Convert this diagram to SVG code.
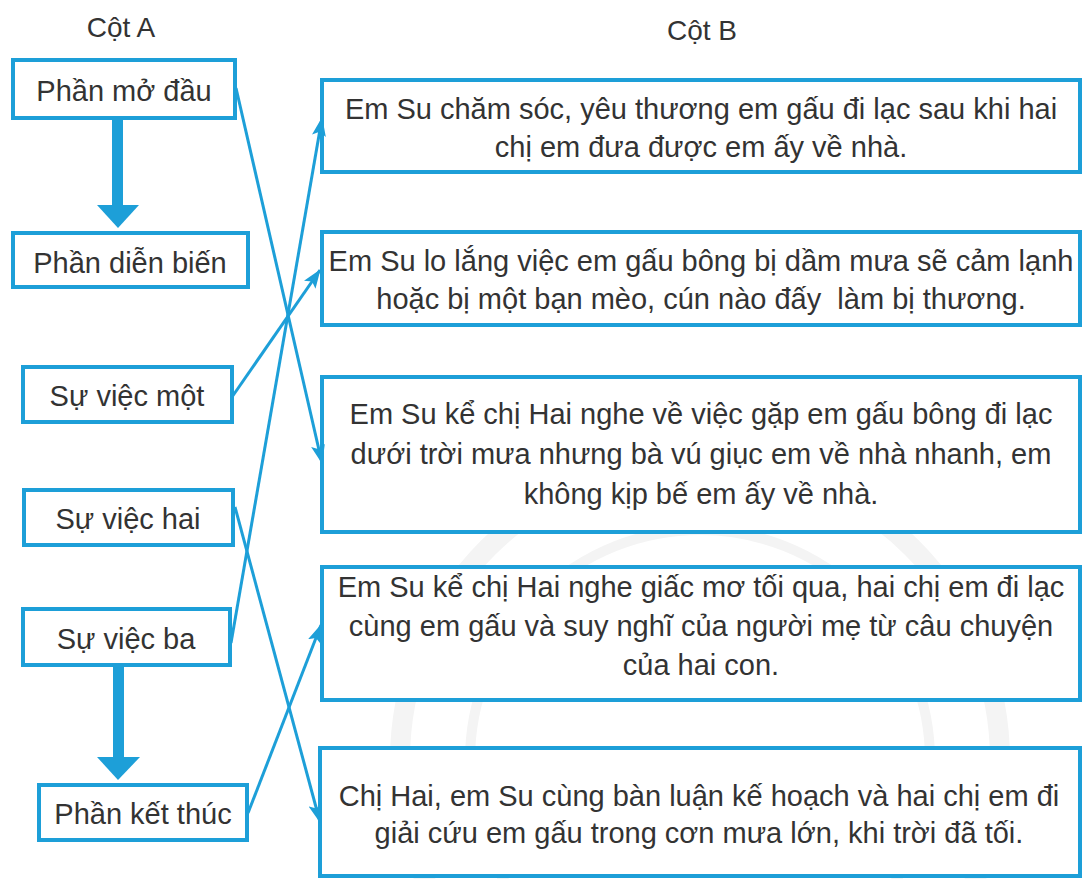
<svg xmlns="http://www.w3.org/2000/svg" width="1085" height="879" viewBox="0 0 1085 879">
<defs>
<style>
.box{fill:#ffffff;stroke:#1d9fd8;stroke-width:4}
.t{font-family:"Liberation Sans",Arial,sans-serif;font-size:29px;fill:#333333;text-anchor:middle}
.h{font-family:"Liberation Sans",Arial,sans-serif;font-size:28px;fill:#333333;text-anchor:middle}
.c{fill:none;stroke:#1d9fd8;stroke-width:3}
.big{fill:#1d9fd8}
.wm{fill:none;stroke:#f4f4f4}
</style>
<marker id="ah" markerUnits="userSpaceOnUse" markerWidth="19" markerHeight="14" refX="18" refY="7" orient="auto">
<path d="M0,0 L19,7 L0,14 L4,7 z" fill="#1d9fd8"/>
</marker>
</defs>
<rect width="1085" height="879" fill="#ffffff"/>
<g id="watermark">
<circle class="wm" cx="700" cy="760" r="300" stroke-width="20"/>
<circle class="wm" cx="700" cy="760" r="230" stroke-width="10"/>
</g>
<text class="h" x="121" y="37">Cột A</text>
<text class="h" x="702" y="40">Cột B</text>
<g id="big-arrows">
<rect class="big" x="112" y="118" width="11" height="90"/>
<polygon class="big" points="97,205 139,205 118,228"/>
<rect class="big" x="113" y="665" width="11" height="94"/>
<polygon class="big" points="97,757 140,757 118,780"/>
</g>
<g id="a1"><rect class="box" x="13" y="60" width="222" height="58"/><text class="t" x="124" y="101">Phần mở đầu</text></g>
<g id="a2"><rect class="box" x="13" y="233" width="235" height="54"/><text class="t" x="130" y="273">Phần diễn biến</text></g>
<g id="a3"><rect class="box" x="23" y="367" width="209" height="55"/><text class="t" x="127" y="406">Sự việc một</text></g>
<g id="a4"><rect class="box" x="24" y="490" width="209" height="55"/><text class="t" x="128" y="529">Sự việc hai</text></g>
<g id="a5"><rect class="box" x="23" y="609" width="207" height="56"/><text class="t" x="126" y="649">Sự việc ba</text></g>
<g id="a6"><rect class="box" x="39" y="785" width="208" height="55"/><text class="t" x="143" y="824">Phần kết thúc</text></g>
<g id="b1"><rect class="box" x="322" y="80" width="758" height="92"/>
<text class="t" x="701" y="119">Em Su chăm sóc, yêu thương em gấu đi lạc sau khi hai</text>
<text class="t" x="701" y="157">chị em đưa được em ấy về nhà.</text></g>
<g id="b2"><rect class="box" x="322" y="232" width="758" height="93"/>
<text class="t" x="701" y="271">Em Su lo lắng việc em gấu bông bị dầm mưa sẽ cảm lạnh</text>
<text class="t" x="701" y="309" xml:space="preserve">hoặc bị một bạn mèo, cún nào đấy  làm bị thương.</text></g>
<g id="b3"><rect class="box" x="322" y="377" width="758" height="155"/>
<text class="t" x="701" y="424">Em Su kể chị Hai nghe về việc gặp em gấu bông đi lạc</text>
<text class="t" x="701" y="464">dưới trời mưa nhưng bà vú giục em về nhà nhanh, em</text>
<text class="t" x="701" y="504">không kịp bế em ấy về nhà.</text></g>
<g id="b4"><rect class="box" x="322" y="567" width="758" height="133"/>
<text class="t" x="701" y="597">Em Su kể chị Hai nghe giấc mơ tối qua, hai chị em đi lạc</text>
<text class="t" x="701" y="636">cùng em gấu và suy nghĩ của người mẹ từ câu chuyện</text>
<text class="t" x="701" y="675">của hai con.</text></g>
<g id="b5"><rect class="box" x="320" y="748" width="760" height="128"/>
<text class="t" x="699" y="806">Chị Hai, em Su cùng bàn luận kế hoạch và hai chị em đi</text>
<text class="t" x="699" y="843">giải cứu em gấu trong cơn mưa lớn, khi trời đã tối.</text></g>
<g id="connectors">
<line class="c" x1="236" y1="88" x2="322" y2="463" marker-end="url(#ah)"/>
<line class="c" x1="232" y1="397" x2="320" y2="270" marker-end="url(#ah)"/>
<line class="c" x1="231" y1="643" x2="322" y2="118" marker-end="url(#ah)"/>
<line class="c" x1="235" y1="507" x2="320" y2="822" marker-end="url(#ah)"/>
<line class="c" x1="248" y1="813" x2="321" y2="625" marker-end="url(#ah)"/>
</g>
</svg>
